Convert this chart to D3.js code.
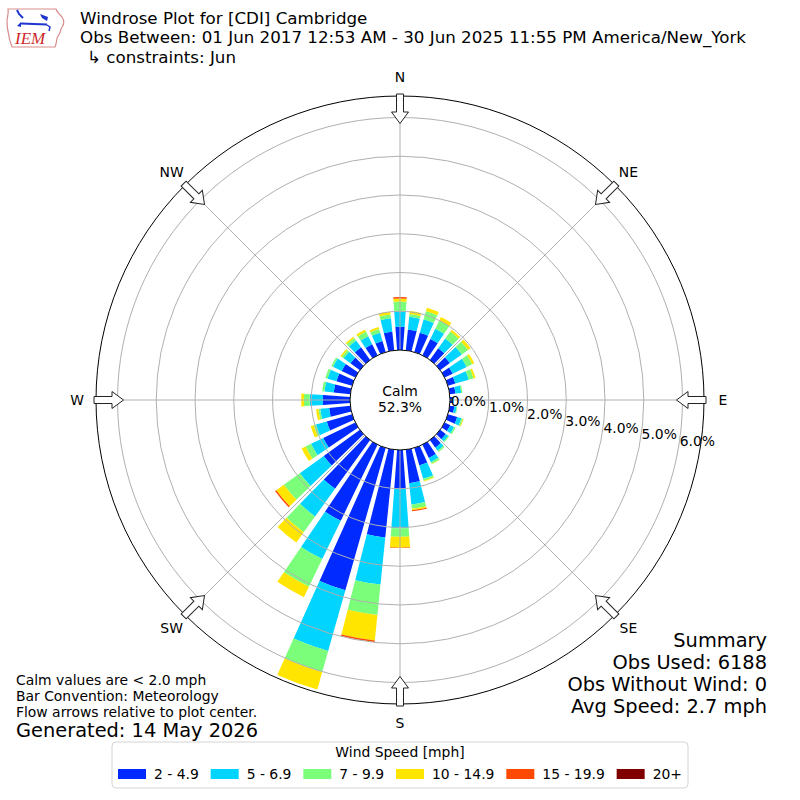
<!DOCTYPE html>
<html>
<head>
<meta charset="utf-8">
<script src="https://cdn.jsdelivr.net/npm/d3@7"></script>
<style>
  body { margin: 0; background: #fff; }
  text { font-family: "DejaVu Sans", sans-serif; fill: #000; }
</style>
</head>
<body>
<svg id="chart" width="800" height="800"></svg>
<script>
// wind directions (bar centres, degrees from north)
const directions = [0, 10, 20, 30, 40, 50, 60, 70, 80, 90, 100, 110, 120, 130, 140, 150, 160, 170,
                    180, 190, 200, 210, 220, 230, 240, 250, 260, 270, 280, 290, 300, 310, 320, 330, 340, 350];

const speedBins = ["2 - 4.9", "5 - 6.9", "7 - 9.9", "10 - 14.9", "15 - 19.9", "20+"];
const binColors = ["#002aff", "#00d4ff", "#7bff7b", "#ffe500", "#ff4800", "#800000"];

// percent of observations per direction, one array per speed bin
const speed2to5 = [0.60, 0.54, 0.52, 0.47, 0.37, 0.31, 0.23, 0.20, 0.15, 0.07, 0.12, 0.25, 0.16, 0.18, 0.24, 0.38, 0.47, 0.87,
                   1.00, 2.28, 3.82, 2.18, 1.55, 1.15, 0.92, 0.68, 0.55, 0.70, 0.43, 0.42, 0.39, 0.30, 0.40, 0.32, 0.30, 0.48];
const speed5to7 = [0.40, 0.33, 0.36, 0.29, 0.31, 0.38, 0.40, 0.36, 0.15, 0.03, 0.06, 0.11, 0.11, 0.08, 0.10, 0.12, 0.36, 0.55,
                   1.02, 1.22, 1.63, 1.10, 0.88, 0.76, 0.35, 0.29, 0.23, 0.34, 0.24, 0.24, 0.25, 0.22, 0.22, 0.23, 0.22, 0.35];
const speed7to10 = [0.25, 0.07, 0.22, 0.24, 0.22, 0.20, 0.16, 0.13, 0.03, 0.00, 0.02, 0.04, 0.04, 0.03, 0.04, 0.05, 0.05, 0.11,
                    0.22, 0.79, 0.56, 0.79, 0.50, 0.51, 0.16, 0.06, 0.05, 0.15, 0.06, 0.06, 0.05, 0.06, 0.08, 0.13, 0.10, 0.10];
const speed10to15 = [0.08, 0.08, 0.09, 0.10, 0.06, 0.08, 0.06, 0.05, 0.00, 0.00, 0.00, 0.02, 0.00, 0.00, 0.00, 0.01, 0.02, 0.04,
                     0.28, 0.66, 0.47, 0.30, 0.33, 0.24, 0.11, 0.08, 0.06, 0.07, 0.00, 0.00, 0.00, 0.04, 0.04, 0.06, 0.05, 0.08];
const speed15to20 = [0.04, 0.00, 0.00, 0.00, 0.00, 0.00, 0.00, 0.00, 0.00, 0.00, 0.00, 0.00, 0.00, 0.00, 0.00, 0.00, 0.00, 0.03,
                     0.01, 0.04, 0.00, 0.00, 0.00, 0.04, 0.00, 0.00, 0.00, 0.00, 0.00, 0.00, 0.00, 0.00, 0.00, 0.00, 0.00, 0.00];
const speed20plus = [0, 0, 0, 0, 0, 0, 0, 0, 0, 0, 0, 0, 0, 0, 0, 0, 0, 0,
                     0, 0, 0, 0, 0, 0, 0, 0, 0, 0, 0, 0, 0, 0, 0, 0, 0, 0];
const series = [speed2to5, speed5to7, speed7to10, speed10to15, speed15to20, speed20plus];

const ringTicks = [0, 1, 2, 3, 4, 5, 6];
const compassLabels = ["N", "NE", "E", "SE", "S", "SW", "W", "NW"];
const compassAngles = [0, 45, 90, 135, 180, 225, 270, 315];
const calmLabel = ["Calm", "52.3%"];

const titleLines = [
  "Windrose Plot for [CDI] Cambridge",
  "Obs Between: 01 Jun 2017 12:53 AM - 30 Jun 2025 11:55 PM America/New_York",
  "\u21b3 constraints: Jun"
];
const noteLines = ["Calm values are < 2.0 mph", "Bar Convention: Meteorology", "Flow arrows relative to plot center."];
const generatedLine = "Generated: 14 May 2026";
const summaryLines = ["Summary", "Obs Used: 6188", "Obs Without Wind: 0", "Avg Speed: 2.7 mph"];
const legendTitle = "Wind Speed [mph]";

// layout
const cx = 400, cy = 400;
const r = d3.scaleLinear().domain([0, 6]).range([50, 282.5]);
const rOuter = 304;
const rad = Math.PI / 180;
const halfWidth = 4.2 * rad;
const gridColor = "#b0b0b0";
const small = 13.9, medium = 16.7, large = 19.4;

const svg = d3.select("#chart");
svg.append("rect").attr("width", 800).attr("height", 800).attr("fill", "#fff");

// title + logo
const logo = svg.append("g");
logo.append("path")
  .attr("d", "M8,9 L56,9 C57,12 59,14 62,17 C64,20 65,23 62,27 C60,30 61,33 58,36 C56,39 57,43 55,47 L12,47 C11,43 9,40 9,36 C8,32 7,28 7,22 C7,17 9,13 8,9 Z")
  .attr("fill", "none").attr("stroke", "#d98c8c").attr("stroke-width", 1.2);
logo.append("path").attr("d", "M21,23.5 L47,24.5").attr("stroke", "#1f35d0").attr("stroke-width", 2.2);
logo.append("path").attr("d", "M17,26 L21,22 L21,27 Z").attr("fill", "#1f35d0");
logo.append("path").attr("d", "M17,10 L19,14 L23,18").attr("fill", "none").attr("stroke", "#1f35d0").attr("stroke-width", 2);
logo.append("path").attr("d", "M40,14 L48,17 L47,21 L42,18 Z").attr("fill", "#1f35d0");
logo.append("path").attr("d", "M47,25 L50,27 L49,31").attr("fill", "none").attr("stroke", "#1f35d0").attr("stroke-width", 1.5);
logo.append("text").attr("x", 15).attr("y", 44)
  .style("font-family", "'Liberation Serif', 'DejaVu Serif', serif")
  .attr("font-style", "italic").attr("font-size", 17).style("fill", "#cc2a2a").text("IEM");

svg.append("g").selectAll("text").data(titleLines).join("text")
  .attr("x", (d, i) => i === 2 ? 87 : 80)
  .attr("y", (d, i) => 23.5 + i * 19.5)
  .attr("font-size", medium)
  .text(d => d);

const rose = svg.append("g").attr("transform", `translate(${cx},${cy})`);

// stacked bars
const table = directions.map((dir, i) => ({ dir: dir, values: series.map(s => s[i]) }));
const stack = d3.stack().keys(d3.range(speedBins.length)).value((d, k) => d.values[k]);
const layers = stack(table);

const arc = d3.arc().padAngle(0.015).padRadius(100);

layers.forEach((layer, k) => {
  rose.append("g")
    .selectAll("path")
    .data(layer.filter(d => d[1] > d[0]))
    .join("path")
    .attr("d", d => arc({
      innerRadius: r(d[0]),
      outerRadius: r(d[1]),
      startAngle: d.data.dir * rad - halfWidth,
      endAngle: d.data.dir * rad + halfWidth
    }))
    .attr("fill", binColors[k]);
});

// grid on top of bars
rose.append("g").selectAll("circle").data(ringTicks.slice(1)).join("circle")
  .attr("r", d => r(d)).attr("fill", "none").attr("stroke", gridColor).attr("stroke-width", 1);
rose.append("g").selectAll("line").data(compassAngles).join("line")
  .attr("x1", d => r(0) * Math.sin(d * rad)).attr("y1", d => -r(0) * Math.cos(d * rad))
  .attr("x2", d => rOuter * Math.sin(d * rad)).attr("y2", d => -rOuter * Math.cos(d * rad))
  .attr("stroke", gridColor).attr("stroke-width", 1);

rose.append("circle").attr("r", r(0)).attr("fill", "#fff").attr("stroke", "#000").attr("stroke-width", 1);
rose.append("circle").attr("r", rOuter).attr("fill", "none").attr("stroke", "#000").attr("stroke-width", 1);

// ring labels
const labelAngle = 10 * rad;
rose.append("g").selectAll("text").data(ringTicks).join("text")
  .attr("x", d => r(d) * Math.cos(labelAngle) + 1.5)
  .attr("y", d => r(d) * Math.sin(labelAngle) - 3)
  .attr("font-size", small)
  .text(d => d.toFixed(1) + "%");

// calm
rose.append("g").selectAll("text").data(calmLabel).join("text")
  .attr("y", (d, i) => -9 + i * 16)
  .attr("text-anchor", "middle").attr("dominant-baseline", "central")
  .attr("font-size", small)
  .text(d => d);

// flow arrows
const tail = rOuter + 2, head = rOuter - 16, tip = rOuter - 27.5;
const arrowPath = `M-3.5,${-tail} L-3.5,${-head} L-8.5,${-head} L0,${-tip} L8.5,${-head} L3.5,${-head} L3.5,${-tail} Z`;
rose.append("g").selectAll("path").data(compassAngles).join("path")
  .attr("d", arrowPath)
  .attr("transform", d => `rotate(${d})`)
  .attr("fill", "#fff").attr("stroke", "#222").attr("stroke-width", 1);

// compass labels
const labelR = 323;
rose.append("g").selectAll("text").data(compassLabels).join("text")
  .attr("x", (d, i) => labelR * Math.sin(compassAngles[i] * rad))
  .attr("y", (d, i) => -labelR * Math.cos(compassAngles[i] * rad))
  .attr("text-anchor", "middle").attr("dominant-baseline", "central")
  .attr("font-size", small)
  .text(d => d);

// notes bottom left
svg.append("g").selectAll("text").data(noteLines).join("text")
  .attr("x", 16).attr("y", (d, i) => 685 + i * 16)
  .attr("font-size", small)
  .text(d => d);
svg.append("text").attr("x", 16).attr("y", 737).attr("font-size", large).text(generatedLine);

// summary bottom right
svg.append("g").selectAll("text").data(summaryLines).join("text")
  .attr("x", 767).attr("y", (d, i) => 647 + i * 22)
  .attr("text-anchor", "end")
  .attr("font-size", large)
  .text(d => d);

// legend
const legend = svg.append("g");
legend.append("rect")
  .attr("x", 112).attr("y", 742).attr("width", 576).attr("height", 46).attr("rx", 4)
  .attr("fill", "#fff").attr("stroke", "#d4d4d4");
legend.append("text").attr("x", 400).attr("y", 757).attr("text-anchor", "middle")
  .attr("font-size", small).text(legendTitle);

const items = legend.selectAll("g.item").data(speedBins).join("g").attr("class", "item");
items.append("rect").attr("y", 769).attr("width", 28).attr("height", 10).attr("fill", (d, i) => binColors[i]);
items.append("text").attr("x", 36).attr("y", 779).attr("font-size", small).text(d => d);

const widths = items.nodes().map(n => n.querySelector("text").getComputedTextLength() + 36);
const colGap = (564 - d3.sum(widths)) / (widths.length - 1);
let xpos = 118;
items.attr("transform", (d, i) => {
  const t = `translate(${xpos},0)`;
  xpos += widths[i] + colGap;
  return t;
});
</script>
</body>
</html>
